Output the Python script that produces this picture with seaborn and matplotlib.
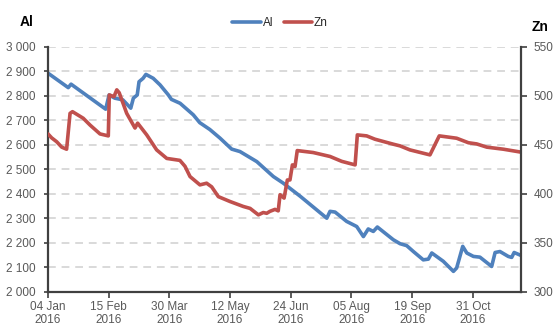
import matplotlib
matplotlib.use("Agg")
import matplotlib.pyplot as plt
import seaborn as sns
import pandas as pd
from matplotlib.ticker import FuncFormatter, MultipleLocator

# ---- data (x = trading-day index since 04 Jan 2016) ----
al_idx = [0, 10, 11.4, 28.5, 30.2, 33, 37, 40.9, 42.2, 44.1, 45, 47, 48.4, 52, 55.4,
          59.5, 61, 65.3, 71.8, 75, 80, 85, 90.8, 94.9, 103.2, 111.4, 116.3, 124.6,
          137.8, 139.4, 141.9, 147.6, 152.6, 155.9, 158.3, 160.8, 162.8, 170.7, 174,
          177.3, 180.6, 185.5, 188, 189.7, 195.4, 200.4, 202, 205, 207, 210.3, 213.5,
          219.3, 221, 223.4, 227.5, 229.2, 230.4, 233.8]
al_val = [2892, 2833, 2847, 2745, 2803, 2790, 2783, 2749, 2790, 2803, 2857, 2871, 2887,
          2871, 2844, 2803, 2785, 2769, 2722, 2690, 2662, 2627, 2582, 2572, 2531, 2470,
          2443, 2390, 2300, 2328, 2325, 2287, 2266, 2225, 2256, 2246, 2264, 2212, 2196,
          2188, 2164, 2130, 2133, 2158, 2124, 2083, 2097, 2185, 2158, 2144, 2141, 2103,
          2160, 2164, 2144, 2140, 2160, 2148]

zn_idx = [0, 1.8, 4.3, 6.8, 9.2, 10.9, 12.1, 17.4, 20.8, 25.7, 29.8, 30.3, 32.6, 34,
          35.2, 38.9, 43, 44.3, 48.8, 53.7, 58.7, 65.2, 67.7, 70.2, 75.1, 78.4, 80.9,
          84.2, 90, 96.5, 99.9, 104, 106.4, 108.1, 109.7, 112.2, 113.8, 114.7, 116.7,
          118.3, 119.6, 120.8, 122.1, 123.2, 131.1, 139.4, 145.2, 151.8, 152.9, 157.5,
          161.6, 170.7, 174, 178.9, 188.8, 193.4, 202, 207.8, 211.9, 216.9, 225.1, 233.8]
zn_val = [461, 457, 453, 447.5, 445.4, 482, 483.7, 477, 470, 461, 459, 500.8, 499, 506,
          503, 482, 467, 472, 460, 444.7, 436, 434, 428, 417.5, 409, 410.7, 407, 397,
          392, 387, 385, 378.4, 380.8, 380, 382, 384, 382.5, 399, 395.5, 414, 414, 429.4,
          427.7, 444, 442, 438, 433, 429.4, 460, 459, 455.6, 450.5, 448.8, 444.7, 439.6,
          459, 456.6, 452, 450.8, 447.5, 445.4, 442.4]

tick_pos = [0, 30, 60, 90, 120, 150, 180, 210]
tick_labels = ["04 Jan\n2016", "15 Feb\n2016", "30 Mar\n2016", "12 May\n2016",
               "24 Jun\n2016", "05 Aug\n2016", "19 Sep\n2016", "31 Oct\n2016"]

sns.set_theme(style="white")
plt.rcParams['font.family'] = ['Liberation Sans', 'DejaVu Sans']

BLUE = "#4F81BD"
RED = "#C0504D"
SPINE = "#404040"
TXT = "#595959"

fig = plt.figure(figsize=(5.6, 3.3), dpi=100)
ax = fig.add_axes([48/560, 1 - 291.7/330, (521 - 48)/560, (291.7 - 46.7)/330])
ax2 = ax.twinx()

df_al = pd.DataFrame({"x": al_idx, "y": al_val})
df_zn = pd.DataFrame({"x": zn_idx, "y": zn_val})
sns.lineplot(data=df_al, x="x", y="y", ax=ax, color=BLUE, linewidth=2.6, label="Al",
             legend=False)
sns.lineplot(data=df_zn, x="x", y="y", ax=ax2, color=RED, linewidth=2.6, label="Zn",
             legend=False)

ax.set_xlim(0, 233.8)
ax.set_ylim(2000, 3000)
ax2.set_ylim(300, 550)
ax.yaxis.set_major_locator(MultipleLocator(100))
ax2.yaxis.set_major_locator(MultipleLocator(50))
ax.yaxis.set_major_formatter(FuncFormatter(lambda v, p: f"{int(v):,}".replace(",", " ")))
ax.set_xticks(tick_pos)
ax.set_xticklabels(tick_labels)
ax.set_xlabel("")
ax.set_ylabel("")
ax2.set_ylabel("")

ax.grid(axis="y", color="#D9D9D9", linestyle=(0, (4, 3)), linewidth=1.4)
ax.set_axisbelow(True)

for a in (ax, ax2):
    a.spines["top"].set_visible(False)
    for s in ("left", "right", "bottom"):
        a.spines[s].set_color(SPINE)
        a.spines[s].set_linewidth(1.6)
ax.spines["right"].set_visible(False)
ax2.spines["left"].set_visible(False)
ax2.spines["bottom"].set_visible(False)

ax.tick_params(axis="y", which="major", direction="out", length=3, width=1.2,
               color=SPINE, labelsize=8.5, labelcolor=TXT, pad=6, left=True)
ax.tick_params(axis="x", which="major", direction="out", length=4, width=1.2,
               color=SPINE, labelsize=8.5, labelcolor=TXT, pad=3, bottom=True)
ax2.tick_params(axis="y", which="major", direction="out", length=4, width=1.2,
                color=SPINE, labelsize=8.5, labelcolor=TXT, pad=5, right=True)
for lbl in ax.get_xticklabels():
    lbl.set_linespacing(1.05)

fig.text(27/560, 1 - 22/330, "Al", fontsize=10, fontweight="bold", ha="center",
         va="center", color="#000000")
fig.text(540/560, 1 - 27/330, "Zn", fontsize=10, fontweight="bold", ha="center",
         va="center", color="#000000")

h1, l1 = ax.get_legend_handles_labels()
h2, l2 = ax2.get_legend_handles_labels()
fig.legend(h1 + h2, l1 + l2, loc="center", bbox_to_anchor=(280/560, 1 - 23/330),
           ncol=2, frameon=False, fontsize=8.5, handlelength=2.4, handletextpad=0.15,
           columnspacing=0.9, labelcolor="#262626")

fig.savefig("out.png", dpi=100)
